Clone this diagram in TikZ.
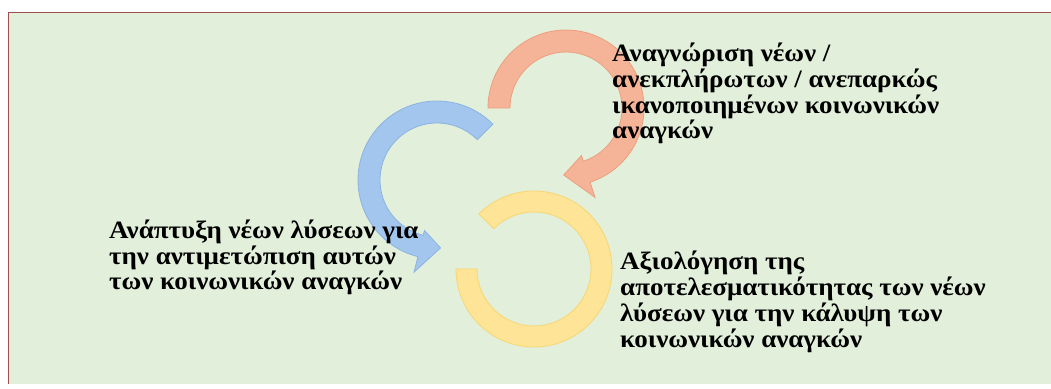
\documentclass[tikz,border=0pt]{standalone}
\usepackage{fontspec}
\setmainfont[FakeStretch=1.08]{Liberation Serif}
\begin{document}
\begin{tikzpicture}[x=1pt,y=1pt,
  band/.style={line width=0.8pt, line join=miter},
  orangeband/.style={band, fill=oranfill, draw=oranedge},
  blueband/.style={band, fill=bluefill, draw=blueedge},
  yellowband/.style={band, fill=yellfill, draw=yelledge},
  label/.style={anchor=base west, inner sep=0pt, font=\fontsize{25}{25.6}\selectfont\bfseries, text=black}]
\definecolor{bgfill}{HTML}{E2EFDA}
\definecolor{frame}{HTML}{A0504C}
\definecolor{oranfill}{HTML}{F5B397}
\definecolor{oranedge}{HTML}{EE9F80}
\definecolor{bluefill}{HTML}{A3C6EE}
\definecolor{blueedge}{HTML}{8EB3E2}
\definecolor{yellfill}{HTML}{FDE496}
\definecolor{yelledge}{HTML}{F8D672}
% canvas
\fill[white] (0,0) rectangle (1051,388);
\useasboundingbox (0,0) rectangle (1051,388);
\fill[bgfill] (8.5,4) rectangle (1051,375.5);
\draw[frame, line width=1.6pt] (8.5,4) -- (8.5,375.5) -- (1051,375.5);
% centres
\coordinate (oc) at (566,280);
\coordinate (bc) at (437,208);
\coordinate (yc) at (534,119);
% orange arrow (clockwise, head at lower right)
\path[orangeband] ([shift={(180:78)}]oc) arc[start angle=180, end angle=-72, radius=78]
  -- ([shift={(-72:94)}]oc) -- ([shift={(-92:67)}]oc) -- ([shift={(-72:50)}]oc)
  -- ([shift={(-72:56)}]oc) arc[start angle=-72, end angle=180, radius=56] -- cycle;
% blue arrow (counter-clockwise, head at bottom)
\path[blueband] ([shift={(45:79)}]bc) arc[start angle=45, end angle=256, radius=79]
  -- ([shift={(256:95)}]bc) -- ([shift={(273:68)}]bc) -- ([shift={(256:52)}]bc)
  -- ([shift={(256:57)}]bc) arc[start angle=256, end angle=45, radius=57] -- cycle;
% yellow ring segment
\path[yellowband] ([shift={(135:78)}]yc) arc[start angle=135, end angle=-180, radius=78]
  -- ([shift={(-180:57)}]yc) arc[start angle=-180, end angle=135, radius=57] -- cycle;
% texts
\node[label] (t1) at (612,326) {\parbox[t]{440pt}{\raggedright\fontsize{25}{25.6}\selectfont Αναγνώριση νέων /\\ανεκπλήρωτων / ανεπαρκώς\\ικανοποιημένων κοινωνικών\\αναγκών}};
\node[label] (t2) at (109,149) {\parbox[t]{440pt}{\raggedright\fontsize{25}{25.3}\selectfont Ανάπτυξη νέων λύσεων για\\την αντιμετώπιση αυτών\\των κοινωνικών αναγκών}};
\node[label] (t3) at (620,118) {\parbox[t]{440pt}{\raggedright\fontsize{25}{25.7}\selectfont Αξιολόγηση της\\αποτελεσματικότητας των νέων\\λύσεων για την κάλυψη των\\κοινωνικών αναγκών}};
\end{tikzpicture}
\end{document}
